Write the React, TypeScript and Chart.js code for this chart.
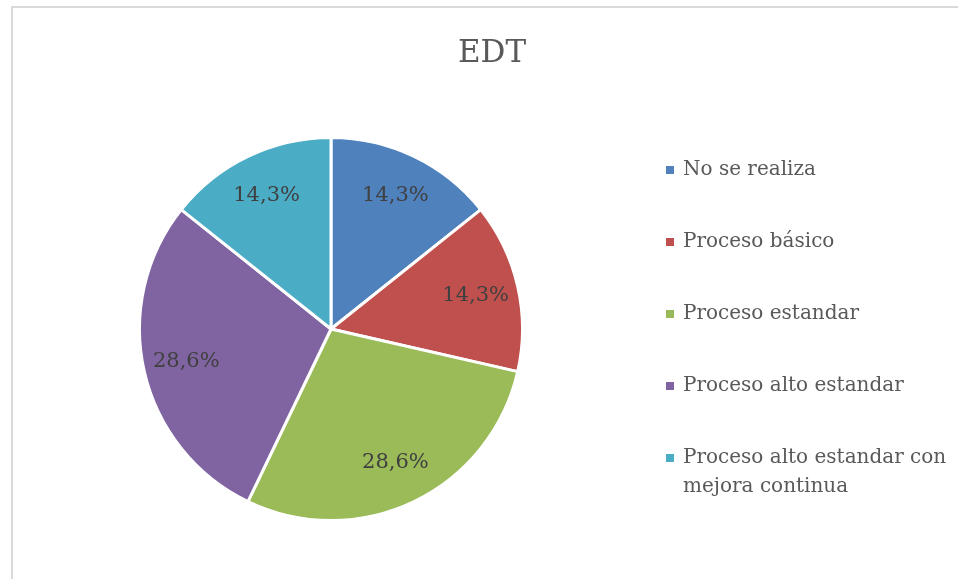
import React, { useEffect, useRef } from "react";
import { Chart, registerables } from "chart.js";

Chart.register(...registerables);

const title = "EDT";
const categories = [
  "No se realiza",
  "Proceso básico",
  "Proceso estandar",
  "Proceso alto estandar",
  "Proceso alto estandar con mejora continua",
];
const values = [1, 1, 2, 2, 1];
const colors = ["#4F81BD", "#C0504D", "#9BBB59", "#8064A2", "#4BACC6"];

const FONT = "'DejaVu Serif', 'Liberation Serif', serif";

const decorPlugin = {
  id: "decor",
  beforeDraw(chart: any) {
    const ctx = chart.ctx;
    ctx.save();
    ctx.fillStyle = "#ffffff";
    ctx.fillRect(0, 0, chart.width, chart.height);
    ctx.strokeStyle = "#d9d9d9";
    ctx.lineWidth = 2;
    ctx.beginPath();
    ctx.moveTo(12, chart.height + 2);
    ctx.lineTo(12, 7);
    ctx.lineTo(chart.width + 2, 7);
    ctx.stroke();
    // title
    ctx.fillStyle = "#595959";
    ctx.font = `31px ${FONT}`;
    ctx.textAlign = "center";
    ctx.textBaseline = "alphabetic";
    ctx.fillText(title, 492, 62);
    ctx.restore();
  },
  afterDatasetsDraw(chart: any) {
    const ctx = chart.ctx;
    const meta = chart.getDatasetMeta(0);
    const data = chart.data.datasets[0].data as number[];
    const total = data.reduce((a, b) => a + b, 0);
    ctx.save();
    ctx.fillStyle = "#404040";
    ctx.font = `21px ${FONT}`;
    ctx.textAlign = "center";
    ctx.textBaseline = "middle";
    meta.data.forEach((arc: any, i: number) => {
      const p = arc.getProps(["x", "y", "startAngle", "endAngle", "outerRadius"], true);
      const mid = (p.startAngle + p.endAngle) / 2;
      const r = p.outerRadius * 0.775;
      const pct = ((data[i] / total) * 100).toFixed(1).replace(".", ",") + "%";
      ctx.fillText(pct, p.x + Math.cos(mid) * r, p.y + Math.sin(mid) * r);
    });
    ctx.restore();
  },
  afterDraw(chart: any) {
    const ctx = chart.ctx;
    const labels = chart.data.labels as string[];
    const bg = chart.data.datasets[0].backgroundColor as string[];
    const x0 = 666;
    const textX = 683;
    const firstY = 170;
    const step = 72;
    const lineH = 29;
    const maxW = 270;
    ctx.save();
    ctx.font = `20px ${FONT}`;
    ctx.textBaseline = "middle";
    ctx.textAlign = "left";
    labels.forEach((lab, i) => {
      const y = firstY + i * step;
      ctx.fillStyle = bg[i];
      ctx.fillRect(x0, y - 4, 8, 8);
      ctx.fillStyle = "#595959";
      const words = lab.split(" ");
      const lines: string[] = [];
      let cur = "";
      words.forEach((w) => {
        const t = cur ? cur + " " + w : w;
        if (ctx.measureText(t).width > maxW && cur) {
          lines.push(cur);
          cur = w;
        } else cur = t;
      });
      if (cur) lines.push(cur);
      lines.forEach((ln, j) => ctx.fillText(ln, textX, y + j * lineH));
    });
    ctx.restore();
  },
};

export default function App() {
  const ref = useRef<HTMLCanvasElement>(null);
  useEffect(() => {
    if (!ref.current) return;
    const chart = new Chart(ref.current, {
      type: "pie",
      data: {
        labels: categories,
        datasets: [
          {
            data: values,
            backgroundColor: colors,
            borderColor: "#ffffff",
            borderWidth: 3,
          },
        ],
      },
      options: {
        animation: false,
        responsive: false,
        layout: { padding: { left: 138, top: 136, right: 434, bottom: 57 } },
        plugins: {
          legend: { display: false },
          title: { display: false },
          tooltip: { enabled: false },
        },
      },
      plugins: [decorPlugin],
    });
    return () => chart.destroy();
  }, []);
  return (
    <div style={{ position: "absolute", left: 0, top: 0, width: 958, height: 579 }}>
      <canvas ref={ref} width={958} height={579} style={{ display: "block" }} />
    </div>
  );
}
